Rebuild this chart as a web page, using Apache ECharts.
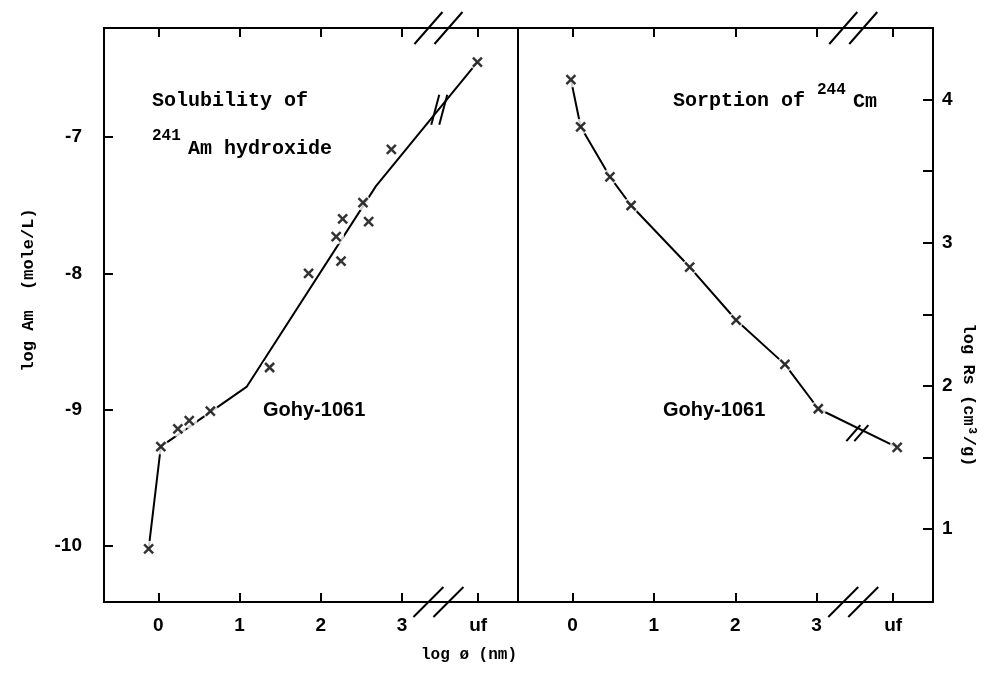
<!DOCTYPE html>
<html>
<head>
<meta charset="utf-8">
<script src="https://cdn.jsdelivr.net/npm/echarts@6/dist/echarts.min.js"></script>
<style>
html, body { margin: 0; padding: 0; background: #fff; }
#chart { width: 996px; height: 673px; }
</style>
</head>
<body>
<div id="chart"></div>
<script>
// left panel: solubility of Am hydroxide (log phi, log Am)
var amX = [-0.12, 0.03, 0.24, 0.38, 0.64, 1.37, 1.85, 2.25, 2.19, 2.27, 2.59, 2.52, 2.87, 3.93];
var amY = [-10.02, -9.27, -9.14, -9.08, -9.01, -8.69, -8.00, -7.91, -7.73, -7.60, -7.62, -7.48, -7.09, -6.45];
// drawn trend line of the left panel
var amLineX = [-0.12, 0.03, 1.09, 2.68, 3.93];
var amLineY = [-10.02, -9.27, -8.83, -7.36, -6.45];
// right panel: sorption of Cm (log phi, log Rs)
var cmX = [-0.02, 0.10, 0.46, 0.72, 1.44, 2.01, 2.61, 3.02, 3.99];
var cmY = [4.14, 3.81, 3.46, 3.26, 2.83, 2.46, 2.15, 1.84, 1.57];

var xTicks = [0, 1, 2, 3, 3.94];
var xTickLabels = ['0', '1', '2', '3', 'uf'];
var amTicks = [-10, -9, -8, -7];
var rsTicks = [1, 1.5, 2, 2.5, 3, 3.5, 4];
var rsLabels = [1, 2, 3, 4];

var BREAK_X = 3.45;

var chart = echarts.init(document.getElementById('chart'));

function pairs(xs, ys) {
	var out = [];
	for (var i = 0; i < xs.length; i++) out.push([xs[i], ys[i]]);
	return out;
}

function xAxisOf(grid, pos) {
	return {
		type: 'value', gridIndex: grid, position: pos,
		min: -0.67, max: 4.43,
		axisLine: {show: false, onZero: false},
		splitLine: {show: false},
		axisTick: {show: true, inside: true, length: 9, customValues: xTicks,
			lineStyle: {color: '#000', width: 2}},
		axisLabel: {show: pos === 'bottom', customValues: xTicks, margin: 14,
			color: '#000', fontFamily: 'Liberation Sans', fontWeight: 'bold', fontSize: 19,
			formatter: function (v) {
				for (var i = 0; i < xTicks.length; i++) {
					if (Math.abs(xTicks[i] - v) < 1e-6) return xTickLabels[i];
				}
				return '';
			}}
	};
}

var markerX = {
	symbol: 'path://M0 0L10 10M10 0L0 10',
	symbolSize: 9,
	itemStyle: {color: '#000', borderColor: '#000', borderWidth: 2.5}
};

function scatterSeries(idx, data) {
	return [
		// white halo so the line breaks around each cross
		{type: 'scatter', xAxisIndex: idx * 2, yAxisIndex: idx, data: data, z: 3,
			symbol: 'circle', symbolSize: 16, itemStyle: {color: '#fff'}, silent: true},
		{type: 'scatter', xAxisIndex: idx * 2, yAxisIndex: idx, data: data, z: 4,
			symbol: markerX.symbol, symbolSize: markerX.symbolSize, itemStyle: markerX.itemStyle}
	];
}

var option = {
	animation: false,
	backgroundColor: '#fff',
	grid: [
		{left: 104, top: 28, width: 414, height: 574, show: true, borderColor: '#000', borderWidth: 2},
		{left: 518, top: 28, width: 415, height: 574, show: true, borderColor: '#000', borderWidth: 2}
	],
	xAxis: [xAxisOf(0, 'bottom'), xAxisOf(0, 'top'), xAxisOf(1, 'bottom'), xAxisOf(1, 'top')],
	yAxis: [
		{
			type: 'value', gridIndex: 0, position: 'left', min: -10.41, max: -6.2,
			axisLine: {show: false, onZero: false}, splitLine: {show: false},
			axisTick: {show: true, inside: true, length: 9, customValues: amTicks,
				lineStyle: {color: '#000', width: 2}},
			axisLabel: {customValues: amTicks, margin: 22, color: '#000',
				fontFamily: 'Liberation Sans', fontWeight: 'bold', fontSize: 19}
		},
		{
			type: 'value', gridIndex: 1, position: 'right', min: 0.49, max: 4.5,
			axisLine: {show: false, onZero: false}, splitLine: {show: false},
			axisTick: {show: true, inside: true, length: 10, customValues: rsTicks,
				lineStyle: {color: '#000', width: 2}},
			axisLabel: {customValues: rsLabels, margin: 9, color: '#000',
				fontFamily: 'Liberation Sans', fontWeight: 'bold', fontSize: 19}
		}
	],
	series: [
		{type: 'line', xAxisIndex: 0, yAxisIndex: 0, data: pairs(amLineX, amLineY), z: 2,
			showSymbol: false, lineStyle: {color: '#000', width: 2}},
		{type: 'line', xAxisIndex: 2, yAxisIndex: 1, data: pairs(cmX, cmY), z: 2,
			showSymbol: false, lineStyle: {color: '#000', width: 2}}
	].concat(scatterSeries(0, pairs(amX, amY))).concat(scatterSeries(1, pairs(cmX, cmY)))
};
chart.setOption(option);

// break marks and texts
function slash(cx, cy, hw, hh) {
	return {type: 'line', z: 10, shape: {x1: cx - hw, y1: cy + hh, x2: cx + hw, y2: cy - hh},
		style: {stroke: '#000', lineWidth: 2}};
}
function txt(x, y, s, font, size, opts) {
	opts = opts || {};
	return {type: 'text', x: x, y: y, rotation: opts.rot || 0, z: 10,
		style: {text: s, fill: '#000', font: 'bold ' + size + 'px "' + font + '"',
			align: opts.align || 'left', verticalAlign: 'middle'}};
}

var g = [];
[0, 1].forEach(function (gi) {
	var top = chart.convertToPixel({gridIndex: gi}, [BREAK_X, gi === 0 ? -6.2 : 4.5]);
	var bot = chart.convertToPixel({gridIndex: gi}, [BREAK_X, gi === 0 ? -10.41 : 0.49]);
	g.push(slash(top[0] - 10, top[1], 14, 16), slash(top[0] + 10, top[1], 14, 16));
	g.push(slash(bot[0] - 10, bot[1], 15, 15), slash(bot[0] + 10, bot[1], 15, 15));
});
var lb = chart.convertToPixel({gridIndex: 0}, [3.46, -6.8]);
g.push(slash(lb[0] - 4, lb[1], 4, 15), slash(lb[0] + 4, lb[1], 4, 15));
var rb = chart.convertToPixel({gridIndex: 1}, [3.5, 1.67]);
g.push(slash(rb[0] - 4, rb[1], 7, 8), slash(rb[0] + 4, rb[1], 7, 8));

g.push(txt(152, 101, 'Solubility of', 'Liberation Mono', 20));
g.push(txt(152, 136, '241', 'Liberation Mono', 16));
g.push(txt(188, 149, 'Am hydroxide', 'Liberation Mono', 20));
g.push(txt(673, 101, 'Sorption of', 'Liberation Mono', 20));
g.push(txt(817, 90, '244', 'Liberation Mono', 16));
g.push(txt(853, 102, 'Cm', 'Liberation Mono', 20));
g.push(txt(263, 410, 'Gohy-1061', 'Liberation Sans', 20));
g.push(txt(663, 410, 'Gohy-1061', 'Liberation Sans', 20));
g.push(txt(469, 655, 'log ø (nm)', 'Liberation Mono', 16, {align: 'center'}));
g.push(txt(29, 290, 'log Am  (mole/L)', 'Liberation Mono', 17, {align: 'center', rot: Math.PI / 2}));
g.push(txt(968, 395, 'log Rs (cm³/g)', 'Liberation Mono', 17, {align: 'center', rot: -Math.PI / 2}));

chart.setOption({graphic: g});
</script>
</body>
</html>
